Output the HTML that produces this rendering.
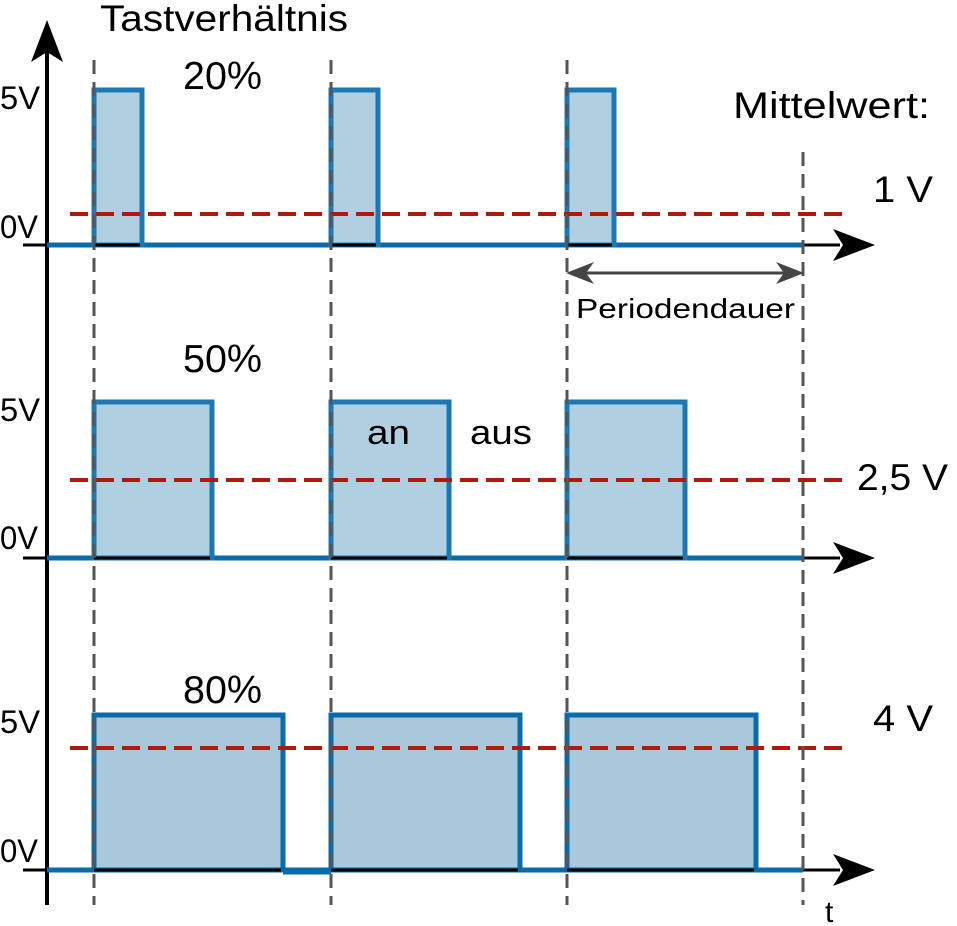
<!DOCTYPE html>
<html><head><meta charset="utf-8"><style>html,body{margin:0;padding:0;background:#fff}svg{display:block}text{font-family:"Liberation Sans",sans-serif;fill:#000}</style></head>
<body>
<svg width="957" height="926" viewBox="0 0 957 926" xmlns="http://www.w3.org/2000/svg">
<defs>
<g id="ah"><path d="M0,0 L-42,-16 L-32,0 L-42,16 Z" fill="#000"/></g>
</defs>
<line x1="47" y1="50" x2="47" y2="905" stroke="#000" stroke-width="4"/>
<path d="M47,20 L31,62 L47,52 L63,62 Z" fill="#000"/>

<g>
<line x1="23" y1="245" x2="47" y2="245" stroke="#000" stroke-width="3"/>
<line x1="47" y1="245" x2="803" y2="245" stroke="#0b6aa8" stroke-width="5"/>
<line x1="803" y1="245" x2="840" y2="245" stroke="#000" stroke-width="3"/>
<use href="#ah" x="875" y="245"/>
<rect x="94" y="90" width="48" height="155" fill="#b0d0e2" stroke="#1b78b3" stroke-width="5"/>
<rect x="331" y="90" width="47" height="155" fill="#b0d0e2" stroke="#1b78b3" stroke-width="5"/>
<rect x="567" y="90" width="47" height="155" fill="#b0d0e2" stroke="#1b78b3" stroke-width="5"/>
<line x1="94" y1="245" x2="140" y2="245" stroke="#000" stroke-width="3"/>
<line x1="331" y1="245" x2="376" y2="245" stroke="#000" stroke-width="3"/>
<line x1="567" y1="245" x2="612" y2="245" stroke="#000" stroke-width="3"/>
<line x1="70" y1="214" x2="842" y2="214" stroke="#b01a0a" stroke-width="4" stroke-dasharray="18,8"/>
</g>

<g>
<line x1="23" y1="558" x2="47" y2="558" stroke="#000" stroke-width="3"/>
<line x1="47" y1="558" x2="803" y2="558" stroke="#0b6aa8" stroke-width="5"/>
<line x1="803" y1="558" x2="840" y2="558" stroke="#000" stroke-width="3"/>
<use href="#ah" x="875" y="558"/>
<rect x="94" y="402" width="118" height="156" fill="#b0d0e2" stroke="#1b78b3" stroke-width="5"/>
<rect x="331" y="402" width="118" height="156" fill="#b0d0e2" stroke="#1b78b3" stroke-width="5"/>
<rect x="567" y="402" width="118" height="156" fill="#b0d0e2" stroke="#1b78b3" stroke-width="5"/>
<line x1="94" y1="558" x2="210" y2="558" stroke="#000" stroke-width="3"/>
<line x1="331" y1="558" x2="447" y2="558" stroke="#000" stroke-width="3"/>
<line x1="567" y1="558" x2="683" y2="558" stroke="#000" stroke-width="3"/>
<line x1="70" y1="480" x2="842" y2="480" stroke="#b01a0a" stroke-width="4" stroke-dasharray="18,8"/>
</g>

<g>
<line x1="23" y1="870" x2="47" y2="870" stroke="#000" stroke-width="3"/>
<line x1="47" y1="870" x2="803" y2="870" stroke="#0b6aa8" stroke-width="5"/>
<line x1="283" y1="872" x2="331" y2="872" stroke="#0b6aa8" stroke-width="5"/>
<line x1="803" y1="870" x2="840" y2="870" stroke="#000" stroke-width="3"/>
<use href="#ah" x="875" y="870"/>
<rect x="94" y="715" width="189" height="155" fill="#a8c9dc" stroke="#0b6aa8" stroke-width="5"/>
<rect x="331" y="715" width="189" height="155" fill="#a8c9dc" stroke="#0b6aa8" stroke-width="5"/>
<rect x="567" y="715" width="189" height="155" fill="#a8c9dc" stroke="#0b6aa8" stroke-width="5"/>
<line x1="94" y1="870" x2="281" y2="870" stroke="#000" stroke-width="3"/>
<line x1="331" y1="870" x2="518" y2="870" stroke="#000" stroke-width="3"/>
<line x1="567" y1="870" x2="754" y2="870" stroke="#000" stroke-width="3"/>
<line x1="70" y1="748" x2="842" y2="748" stroke="#b01a0a" stroke-width="4" stroke-dasharray="18,8"/>
</g>

<g stroke="#555" stroke-width="3" stroke-dasharray="14,8">
<line x1="94" y1="60" x2="94" y2="905"/>
<line x1="331" y1="60" x2="331" y2="905"/>
<line x1="567" y1="60" x2="567" y2="905"/>
<line x1="803" y1="152" x2="803" y2="905"/>
</g>

<line x1="572" y1="273" x2="798" y2="273" stroke="#444" stroke-width="3"/>
<path d="M566,273 L594,262 L586,273 L594,284 Z" fill="#444"/>
<path d="M804,273 L776,262 L784,273 L776,284 Z" fill="#444"/>
<text x="576" y="318" font-size="28" textLength="219" lengthAdjust="spacingAndGlyphs">Periodendauer</text>

<text x="100" y="31" font-size="37" textLength="248" lengthAdjust="spacingAndGlyphs">Tastverhältnis</text>
<text x="183" y="89" font-size="39" textLength="79" lengthAdjust="spacingAndGlyphs">20%</text>
<text x="183" y="372" font-size="39" textLength="79" lengthAdjust="spacingAndGlyphs">50%</text>
<text x="183" y="703" font-size="39" textLength="79" lengthAdjust="spacingAndGlyphs">80%</text>
<text x="0" y="109" font-size="32" textLength="40" lengthAdjust="spacingAndGlyphs">5V</text>
<text x="0" y="238" font-size="32" textLength="38" lengthAdjust="spacingAndGlyphs">0V</text>
<text x="0" y="421" font-size="32" textLength="40" lengthAdjust="spacingAndGlyphs">5V</text>
<text x="0" y="549" font-size="32" textLength="38" lengthAdjust="spacingAndGlyphs">0V</text>
<text x="0" y="733" font-size="32" textLength="40" lengthAdjust="spacingAndGlyphs">5V</text>
<text x="0" y="862" font-size="32" textLength="38" lengthAdjust="spacingAndGlyphs">0V</text>
<text x="733" y="118" font-size="37" textLength="197" lengthAdjust="spacingAndGlyphs">Mittelwert:</text>
<text x="873" y="202" font-size="37" textLength="60" lengthAdjust="spacingAndGlyphs">1 V</text>
<text x="857" y="490" font-size="37" textLength="91" lengthAdjust="spacingAndGlyphs">2,5 V</text>
<text x="873" y="731" font-size="37" textLength="60" lengthAdjust="spacingAndGlyphs">4 V</text>
<text x="367" y="444" font-size="34" textLength="43" lengthAdjust="spacingAndGlyphs">an</text>
<text x="470" y="444" font-size="34" textLength="62" lengthAdjust="spacingAndGlyphs">aus</text>
<text x="825" y="922" font-size="30">t</text>
</svg>
</body></html>
